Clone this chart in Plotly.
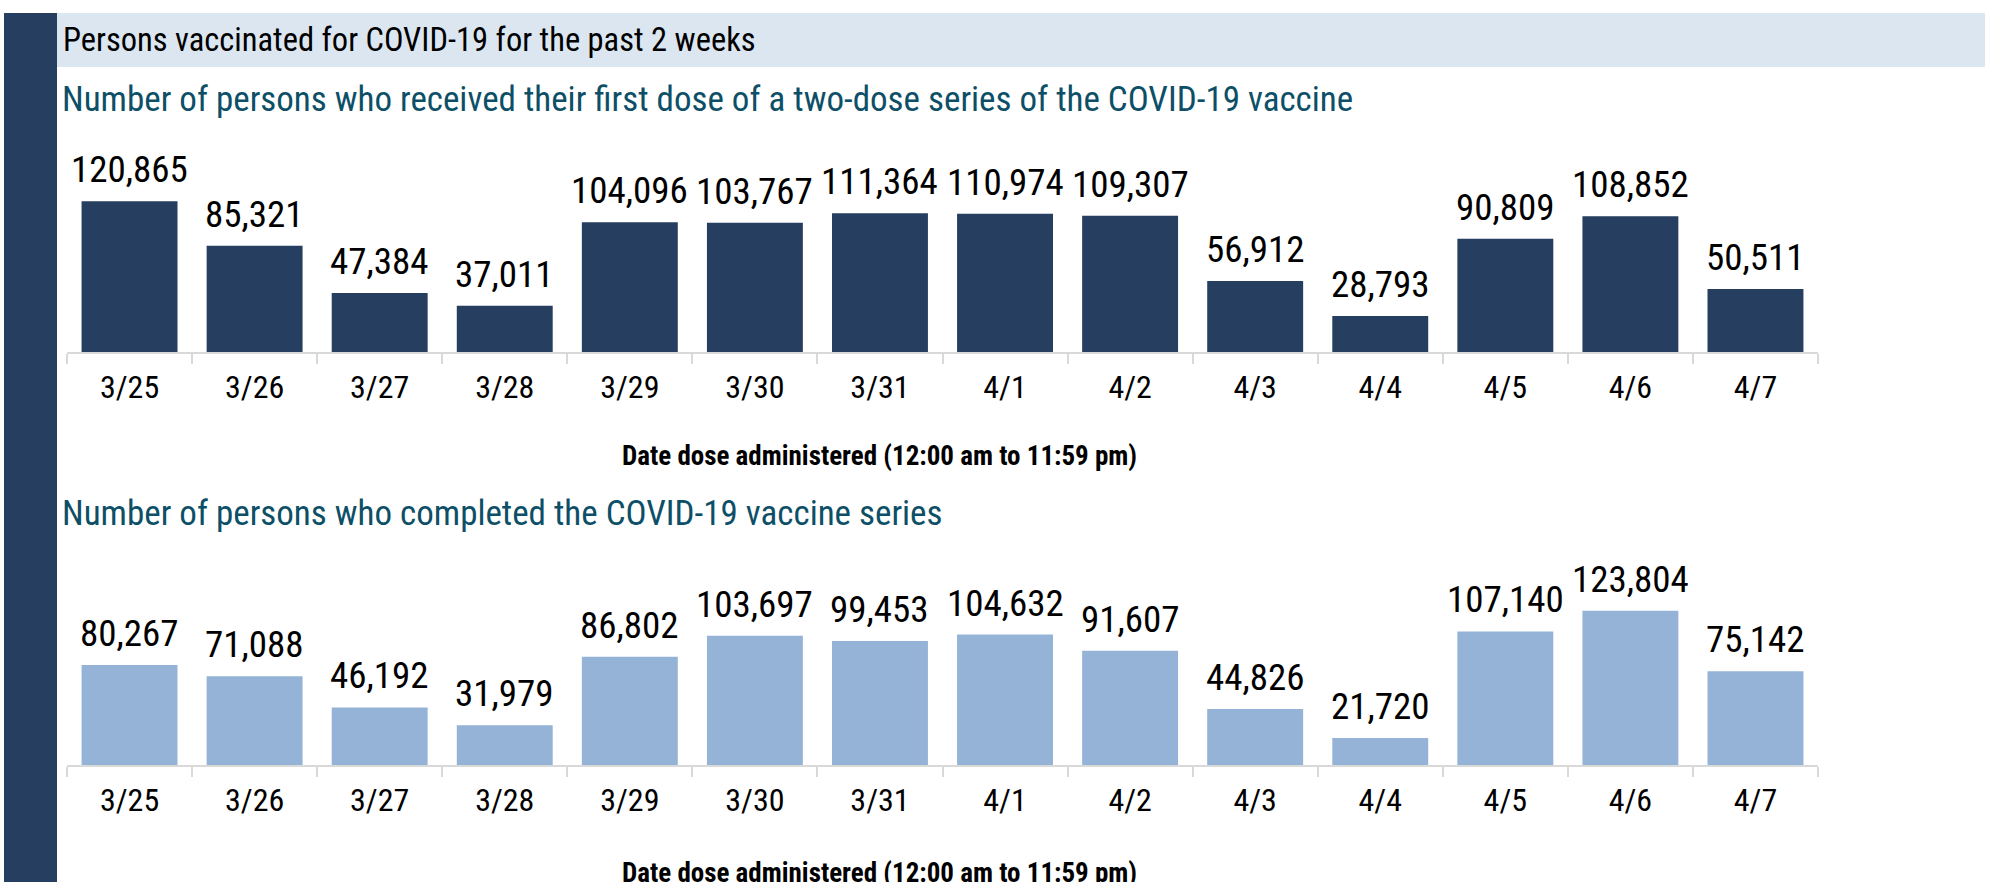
import plotly.graph_objects as go

# ---- data ----
dates = ["3/25", "3/26", "3/27", "3/28", "3/29", "3/30", "3/31",
         "4/1", "4/2", "4/3", "4/4", "4/5", "4/6", "4/7"]
first_dose = [120865, 85321, 47384, 37011, 104096, 103767, 111364,
              110974, 109307, 56912, 28793, 90809, 108852, 50511]
completed = [80267, 71088, 46192, 31979, 86802, 103697, 99453,
             104632, 91607, 44826, 21720, 107140, 123804, 75142]

header_title = "Persons vaccinated for COVID-19 for the past 2 weeks"
subtitle_first = "Number of persons who received their first dose of a two-dose series of the COVID-19 vaccine"
subtitle_completed = "Number of persons who completed the COVID-19 vaccine series"
x_title = "Date dose administered (12:00 am to 11:59 pm)"

# ---- styling ----
W, H = 1997, 882
DARK = "#263e5f"
LIGHT = "#95b3d7"
BAND = "#dce6f1"
TEAL = "#0d4f67"
GRID = "#d9d9d9"
FONT = "Roboto Condensed, Liberation Sans, Arial, sans-serif"


def px(x):
    return x / W


def py(y):
    return 1 - y / H


fig = go.Figure()
fig.add_trace(go.Bar(x=dates, y=first_dose, marker_color=DARK,
                     marker_line_width=0, xaxis="x", yaxis="y",
                     hoverinfo="x+y"))
fig.add_trace(go.Bar(x=dates, y=completed, marker_color=LIGHT,
                     marker_line_width=0, xaxis="x2", yaxis="y2",
                     hoverinfo="x+y"))

ymax = 154000
xaxis_common = dict(
    type="category", showline=True, linecolor=GRID, linewidth=1.5,
    ticks="outside", tickson="boundaries", ticklen=10, tickcolor=GRID,
    tickwidth=1.5, showgrid=False, zeroline=False,
    tickfont=dict(family=FONT, size=32, color="black"),
    ticklabelstandoff=6,
)
yaxis_common = dict(range=[0, ymax], visible=False, showgrid=False,
                    zeroline=False)

annotations = []
for series, xr, yr in ((first_dose, "x", "y"), (completed, "x2", "y2")):
    for d, v in zip(dates, series):
        annotations.append(dict(
            x=d, y=v, xref=xr, yref=yr, text=f"{v:,}", showarrow=False,
            yanchor="bottom", yshift=8,
            font=dict(family=FONT, size=37, color="black")))

annotations += [
    dict(x=px(61), y=py(40), xref="paper", yref="paper", text=header_title,
         showarrow=False, xanchor="left", yanchor="middle",
         font=dict(family=FONT, size=32.5, color="black")),
    dict(x=px(60), y=py(99), xref="paper", yref="paper", text=subtitle_first,
         showarrow=False, xanchor="left", yanchor="middle",
         font=dict(family=FONT, size=35, color=TEAL)),
    dict(x=px(60), y=py(513), xref="paper", yref="paper", text=subtitle_completed,
         showarrow=False, xanchor="left", yanchor="middle",
         font=dict(family=FONT, size=35, color=TEAL)),
    dict(x=px(879), y=py(456), xref="paper", yref="paper", text=f"<b>{x_title}</b>",
         showarrow=False, xanchor="center", yanchor="middle",
         font=dict(family=FONT, size=27, color="black")),
    dict(x=px(879), y=py(873), xref="paper", yref="paper", text=f"<b>{x_title}</b>",
         showarrow=False, xanchor="center", yanchor="middle",
         font=dict(family=FONT, size=27, color="black")),
]

shapes = [
    dict(type="rect", xref="paper", yref="paper", x0=px(4), x1=px(57),
         y0=0, y1=py(13), fillcolor=DARK, line_width=0, layer="below"),
    dict(type="rect", xref="paper", yref="paper", x0=px(57), x1=px(1985),
         y0=py(67), y1=py(13), fillcolor=BAND, line_width=0, layer="below"),
]

fig.update_layout(
    width=W, height=H,
    margin=dict(l=0, r=0, t=0, b=0, pad=0),
    paper_bgcolor="white", plot_bgcolor="white",
    showlegend=False, bargap=0.233,
    xaxis=dict(domain=[px(67), px(1818)], anchor="y", **xaxis_common),
    yaxis=dict(domain=[py(352), py(160)], anchor="x", **yaxis_common),
    xaxis2=dict(domain=[px(67), px(1818)], anchor="y2", **xaxis_common),
    yaxis2=dict(domain=[py(765), py(573)], anchor="x2", **yaxis_common),
    annotations=annotations, shapes=shapes,
    font=dict(family=FONT),
)

fig.write_html("out.html", config={"displayModeBar": False},
               post_script="document.body.style.margin='0';")
